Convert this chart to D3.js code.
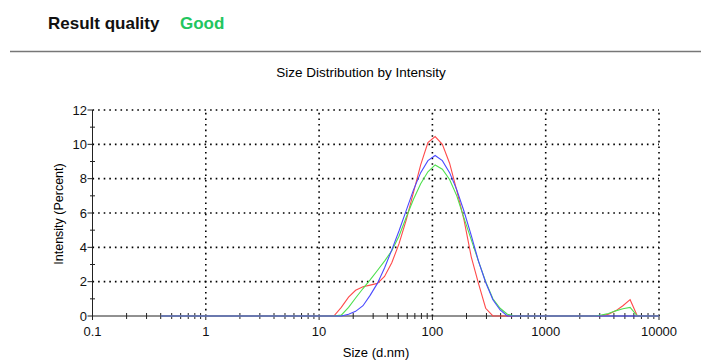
<!DOCTYPE html>
<html>
<head>
<meta charset="utf-8">
<script src="https://cdn.jsdelivr.net/npm/d3@7"></script>
<style>
  body { margin: 0; background: #fff; }
  text { font-family: "Liberation Sans", Arial, sans-serif; }
</style>
</head>
<body>
<div id="container"></div>
<script>
// size bins (d.nm) shared by all three records
const sizes = [0.4, 13.5, 15.7, 18.2, 21.0, 24.4, 28.2, 32.7, 37.8, 43.8, 50.7, 58.8, 68.1, 78.8, 91.3,
  105.7, 122.4, 141.8, 164.2, 190.1, 220.2, 255.0, 295.3, 342.0, 396.1, 458.7, 531.2,
  2700, 3091, 3580, 4145, 4801, 5560, 6439, 10000];
const redValues = [0, 0, 0.5, 1.1, 1.5, 1.7, 1.8, 1.9, 2.3, 3.1, 4.2, 5.6, 7.2, 8.8, 10.1,
  10.45, 10.0, 8.9, 7.3, 5.6, 3.45, 1.9, 0.45, 0, 0, 0, 0,
  0, 0.02, 0.1, 0.3, 0.6, 0.95, 0, 0];
const greenValues = [0, 0, 0.05, 0.5, 1.05, 1.6, 2.1, 2.65, 3.2, 3.8, 4.65, 5.75, 6.8, 7.7, 8.4,
  8.8, 8.55, 7.95, 7.0, 5.7, 4.45, 3.2, 2.0, 1.0, 0.45, 0.1, 0,
  0, 0.05, 0.15, 0.3, 0.42, 0.5, 0, 0];
const blueValues = [0, 0, 0, 0.1, 0.27, 0.6, 1.2, 1.9, 2.8, 3.85, 4.95, 6.15, 7.35, 8.35, 9.05,
  9.35, 9.05, 8.35, 7.35, 6.1, 4.7, 3.2, 1.95, 0.95, 0.35, 0, 0,
  0, 0, 0, 0, 0, 0, 0, 0];
const xTicks = [0.1, 1, 10, 100, 1000, 10000];
const yTicks = [0, 2, 4, 6, 8, 10, 12];

const W = 701, H = 360;
const svg = d3.select('#container').append('svg')
  .attr('width', W).attr('height', H);

// header
svg.append('text').attr('x', 48).attr('y', 29)
  .attr('font-size', 17).attr('font-weight', 'bold').attr('fill', '#111')
  .text('Result quality');
svg.append('text').attr('x', 180).attr('y', 29)
  .attr('font-size', 17).attr('font-weight', 'bold').attr('fill', '#22c55e')
  .text('Good');
svg.append('line').attr('x1', 10).attr('x2', W).attr('y1', 51.5).attr('y2', 51.5)
  .attr('stroke', '#777').attr('stroke-width', 1.5);

svg.append('text').attr('x', 361).attr('y', 77).attr('text-anchor', 'middle')
  .attr('font-size', 13.5).text('Size Distribution by Intensity');

const x = d3.scaleLog().domain([0.1, 10000]).range([92.5, 659]);
const y = d3.scaleLinear().domain([0, 12]).range([316, 110]);

// dotted grid
const grid = svg.append('g').attr('stroke', '#000').attr('stroke-width', 1.6)
  .attr('stroke-dasharray', '1.6,4');
grid.selectAll('.gx').data(xTicks.slice(1)).enter().append('line')
  .attr('x1', d => x(d)).attr('x2', d => x(d))
  .attr('y1', y(0)).attr('y2', y(12));
grid.selectAll('.gy').data(yTicks.slice(1)).enter().append('line')
  .attr('x1', x(0.1)).attr('x2', x(10000))
  .attr('y1', d => y(d)).attr('y2', d => y(d));

// axes
const axes = svg.append('g').attr('stroke', '#222').attr('stroke-width', 1);
axes.append('line').attr('x1', x(0.1)).attr('x2', x(0.1)).attr('y1', y(0)).attr('y2', y(12));
axes.append('line').attr('x1', x(0.1)).attr('x2', x(10000)).attr('y1', y(0)).attr('y2', y(0));

const minorX = [];
for (let dec = 0.1; dec < 10000; dec *= 10) {
  for (let k = 2; k <= 9; k++) minorX.push(dec * k);
}
axes.selectAll('.mx').data(minorX).enter().append('line')
  .attr('x1', d => x(d)).attr('x2', d => x(d))
  .attr('y1', y(0) - 3).attr('y2', y(0) + 3);
axes.selectAll('.tx').data(xTicks).enter().append('line')
  .attr('x1', d => x(d)).attr('x2', d => x(d))
  .attr('y1', y(0)).attr('y2', y(0) + 4);
axes.selectAll('.ty').data(yTicks).enter().append('line')
  .attr('x1', x(0.1) - 5).attr('x2', x(0.1))
  .attr('y1', d => y(d)).attr('y2', d => y(d));
axes.selectAll('.my').data([1, 3, 5, 7, 9, 11]).enter().append('line')
  .attr('x1', x(0.1) - 2.5).attr('x2', x(0.1) + 2.5)
  .attr('y1', d => y(d)).attr('y2', d => y(d));

svg.selectAll('.xl').data(xTicks).enter().append('text')
  .attr('x', d => x(d)).attr('y', 336).attr('text-anchor', 'middle')
  .attr('font-size', 13).attr('fill', '#111').text(d => d);
svg.selectAll('.yl').data(yTicks).enter().append('text')
  .attr('x', 87).attr('y', d => y(d) + 4.5).attr('text-anchor', 'end')
  .attr('font-size', 13).attr('fill', '#111').text(d => d);

svg.append('text').attr('transform', 'translate(63,214) rotate(-90)')
  .attr('text-anchor', 'middle').attr('font-size', 12.5).text('Intensity (Percent)');
svg.append('text').attr('x', 376).attr('y', 357).attr('text-anchor', 'middle')
  .attr('font-size', 13).text('Size (d.nm)');

// curves
const line = d3.line().x(d => x(d[0])).y(d => y(d[1]));
const series = [
  { values: redValues, color: '#ff4a4a' },
  { values: greenValues, color: '#4ee04e' },
  { values: blueValues, color: '#4a4aff' }
];
svg.selectAll('.curve').data(series).enter().append('path')
  .attr('fill', 'none').attr('stroke', d => d.color).attr('stroke-width', 1.1)
  .attr('d', d => line(sizes.map((s, i) => [s, d.values[i]])));
</script>
</body>
</html>
